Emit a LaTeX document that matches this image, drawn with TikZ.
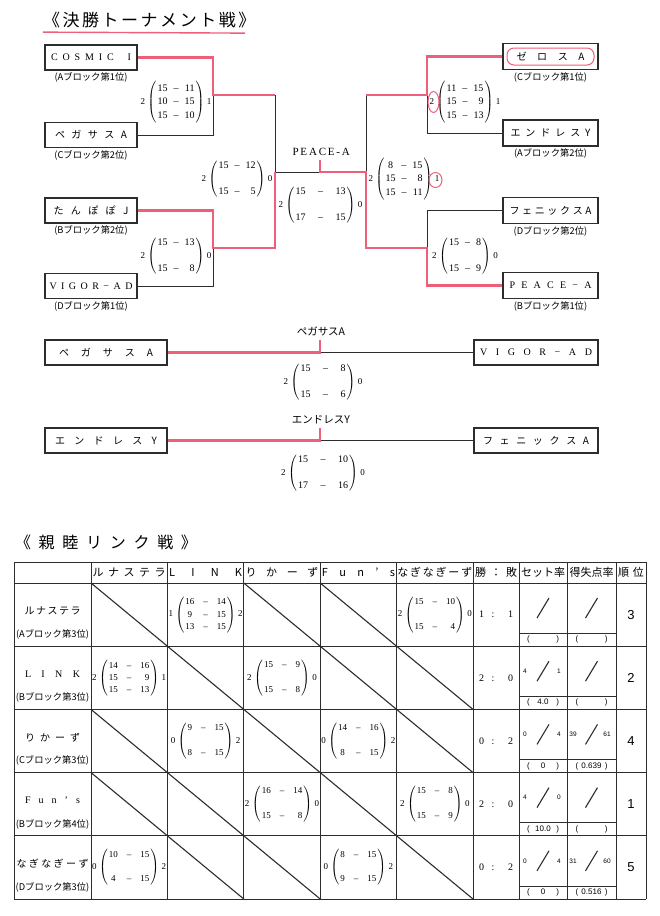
\documentclass[tikz,border=0pt]{standalone}
\usepackage{fontspec}
\setmainfont{Liberation Serif}
\newfontfamily\jpfont{Noto Sans CJK JP}
\newfontfamily\arfont{Liberation Sans}
\usetikzlibrary{positioning}

\definecolor{redpen}{RGB}{238,96,122}
\definecolor{ink}{RGB}{45,45,45}

% spaced-out caption of fixed width
\newcommand{\spread}[2]{\makebox[#1][s]{#2}}
\newcommand{\sidefont}{\fontsize{9}{10}\selectfont}
% game scores: [gap]{sets won}{rows}{sets lost}
\newcommand{\threeset}[6][6pt]{{\sidefont#2}\hspace{2.5pt}$\left(\mkern2mu\renewcommand{\arraystretch}{1.12}\begin{tabular}{@{}c@{\hspace{#1}--\hspace{#1}}r@{}}#3\\#4\\#5\end{tabular}\mkern2mu\right)$\hspace{2.5pt}{\sidefont#6}}
\newcommand{\twoset}[5][6pt]{{\sidefont#2}\hspace{2.5pt}$\left(\mkern2mu\renewcommand{\arraystretch}{1.0}\begin{tabular}{@{}c@{\hspace{#1}--\hspace{#1}}r@{}}#3\\[14pt]#4\end{tabular}\mkern2mu\right)$\hspace{2.5pt}{\sidefont#5}}

\begin{document}
\begin{tikzpicture}[x=1pt, y=-1pt,
    teambox/.style={rectangle, draw=ink, line width=1.1pt, minimum width=92pt, minimum height=25pt, inner sep=0pt, font=\jpfont\fontsize{10}{12}\selectfont},
    rightbox/.style={teambox, minimum width=95pt, minimum height=26pt},
    blocknote/.style={inner sep=0pt, font=\jpfont\fontsize{9.3}{11}\selectfont},
    gamescore/.style={inner sep=0pt, font=\fontsize{10}{12}\selectfont},
    cellscore/.style={inner sep=0pt, font=\fontsize{9}{10.8}\selectfont},
    winline/.style={draw=redpen, line width=2.4pt},
    loseline/.style={draw=ink, line width=0.9pt},
    tablerule/.style={draw=ink, line width=0.8pt},
    emptycell/.style={draw=ink, line width=1.1pt},
    headtext/.style={inner sep=0pt, font=\jpfont\fontsize{11}{13}\selectfont},
    rowname/.style={inner sep=0pt, font=\jpfont\fontsize{10}{12}\selectfont},
    ratenum/.style={inner sep=0pt, font=\arfont\fontsize{6.5}{8}\selectfont},
    ratesub/.style={inner sep=0pt, font=\arfont\fontsize{8}{9.6}\selectfont},
    ranktext/.style={inner sep=0pt, font=\arfont\fontsize{13}{15}\selectfont},
    wltext/.style={inner sep=0pt, font=\fontsize{10}{12}\selectfont},
    redring/.style={draw=redpen, line width=1pt}
]
\fill[white] (0,0) rectangle (660,916);
\useasboundingbox (0,0) rectangle (660,916);

% final tournament
\node[inner sep=0pt, font=\jpfont\fontsize{17}{20}\selectfont] (title1) at (144,20) {\spread{202pt}{《 決 勝 ト ー ナ メ ン ト 戦 》}};
\draw[redpen, line width=1.4pt] ([yshift=-4pt]title1.south west) -- ([yshift=-5pt]title1.south east);

\node[teambox] (cosmic) at (91,57.5) {\rmfamily\spread{80pt}{C O S M I C \hspace{4pt} I}};
\node[blocknote, below=2pt of cosmic] (cosmicnote) {(Aブロック第1位)};
\node[teambox] (pegasus) at (91,135) {\spread{72pt}{ペ ガ サ ス A}};
\node[blocknote, below=2pt of pegasus] (pegasusnote) {(Cブロック第2位)};
\node[teambox] (tanpopo) at (91,210.5) {\spread{75pt}{た ん ぽ ぽ J}};
\node[blocknote, below=2pt of tanpopo] (tanpoponote) {(Bブロック第2位)};
\node[teambox] (vigor) at (91,286) {\rmfamily\spread{83pt}{V I G O R − A D}};
\node[blocknote, below=2pt of vigor] (vigornote) {(Dブロック第1位)};

\node[rightbox] (zeros) at (550.5,56.5) {\spread{68pt}{ゼ ロ ス A}};
\node[blocknote, below=2pt of zeros] (zerosnote) {(Cブロック第1位)};
\node[rightbox] (endless) at (550.5,133) {\spread{80pt}{エ ン ド レ ス Y}};
\node[blocknote, below=2pt of endless] (endlessnote) {(Aブロック第2位)};
\node[rightbox] (phoenix) at (550.5,210.5) {\spread{82pt}{フ ェ ニ ッ ク ス A}};
\node[blocknote, below=2pt of phoenix] (phoenixnote) {(Dブロック第2位)};
\node[rightbox] (peace) at (550.5,285.5) {\rmfamily\spread{82pt}{P E A C E − A}};
\node[blocknote, below=2pt of peace] (peacenote) {(Bブロック第1位)};

\coordinate (lq1) at (213,95);
\coordinate (ls1) at (275,95);
\coordinate (lq2) at (213,248);
\coordinate (ls2) at (275,248);
\coordinate (lf) at (275,172);
\coordinate (champ) at (320,172);
\coordinate (champtop) at (320,160);
\coordinate (rf) at (366,172);
\coordinate (rq1) at (427,95);
\coordinate (rs1) at (366,95);
\coordinate (rq2) at (427,248);
\coordinate (rs2) at (366,248);

\draw[loseline] (pegasus.east) -| (lq1);
\draw[loseline] (vigor.east) -| (lq2);
\draw[loseline] (ls1) -- (lf) -- (champ);
\draw[loseline] (endless.west) -| (rq1);
\draw[loseline] (phoenix.west) -| (rq2);
\draw[loseline] (rs1) -- (rf);
\draw[winline] (cosmic.east) -| (lq1) -- (ls1);
\draw[winline] (tanpopo.east) -| (lq2) -- (ls2) -- (lf);
\draw[winline] (zeros.west) -| (rq1) -- (rs1);
\draw[winline] (peace.west) -| (rq2) -- (rs2) -- (rf) -- (champ) -- (champtop);

\node[inner sep=0pt, font=\fontsize{11}{13}\selectfont] (winner) at (320,152) {\spread{55pt}{P E A C E - A}};

\node[gamescore] (qa1) at (176,102) {\threeset{2}{15&11}{10&15}{15&10}{1}};
\node[gamescore] (qa2) at (176,256) {\twoset{2}{15&13}{15&8}{0}};
\node[gamescore] (sfa) at (237,179) {\twoset{2}{15&12}{15&5}{0}};
\node[gamescore] (fin) at (320.5,205) {\twoset[12.5pt]{2}{15&13}{17&15}{0}};
\node[gamescore] (sfb) at (404,179) {\threeset{2}{8&15}{15&8}{15&11}{1}};
\node[gamescore] (qb1) at (465,102) {\threeset{2}{11&15}{15&9}{15&13}{1}};
\node[gamescore] (qb2) at (465,256) {\twoset{2}{15&8}{15&9}{0}};

\draw[redring, rounded corners=7pt] (507,48) rectangle (594,65);
\draw[redring] (433.5,102) ellipse [x radius=5.5, y radius=10.5];
\draw[redring] (435.5,180) ellipse [x radius=6.5, y radius=7.5];

% third place games
\node[teambox, minimum width=122pt] (pegasusb) at (106,352.5) {\spread{94pt}{ペ ガ サ ス A}};
\node[teambox, minimum width=124pt] (vigorb) at (536,352.5) {\rmfamily\spread{112pt}{V I G O R − A D}};
\node[teambox, minimum width=122pt] (endlessb) at (106,440.5) {\spread{102pt}{エ ン ド レ ス Y}};
\node[teambox, minimum width=124pt] (phoenixb) at (536,440.5) {\spread{106pt}{フ ェ ニ ッ ク ス A}};
\coordinate (tpa) at (320,352.5);
\coordinate (tpatop) at (320,340);
\coordinate (tpb) at (320,440.5);
\coordinate (tpbtop) at (320,428);
\draw[loseline] (tpa) -- (vigorb.west);
\draw[winline] (pegasusb.east) -- (tpa) -- (tpatop);
\draw[loseline] (tpb) -- (phoenixb.west);
\draw[winline] (endlessb.east) -- (tpb) -- (tpbtop);
\node[blocknote, font=\jpfont\fontsize{10.5}{12}\selectfont] (thirda) at (321,331) {ペガサスA};
\node[blocknote, font=\jpfont\fontsize{10.5}{12}\selectfont] (thirdb) at (321,420) {エンドレスY};
\node[gamescore] (tma) at (323,382) {\twoset[12.5pt]{2}{15&8}{15&6}{0}};
\node[gamescore] (tmb) at (323,473) {\twoset[12.5pt]{2}{15&10}{17&16}{0}};

% friendship league
\node[inner sep=0pt, font=\jpfont\fontsize{16}{19}\selectfont] (title2) at (106,542) {\spread{182pt}{《 親 睦 リ ン ク 戦 》}};

\foreach \x in {14,91,167.4,243.8,320.2,396.6,473,519,567,616,646}
  \draw[tablerule] (\x,562) -- (\x,899);
\foreach \y in {562,583,646.2,709.4,772.6,835.8,899}
  \draw[tablerule] (14,\y) -- (646,\y);
\foreach \y in {633.2,696.4,759.6,822.8,886}
  \draw[tablerule] (519,\y) -- (616,\y);
\foreach \c/\r in {1/1,3/1,4/1,2/2,4/2,5/2,1/3,3/3,5/3,1/4,2/4,4/4,2/5,3/5,5/5}
  \draw[emptycell] ({91+76.4*(\c-1)},{583+63.2*(\r-1)}) -- ++(76.4,63.2);

\node[headtext] (hluna) at (129.2,572.5) {\spread{73pt}{ル ナ ス テ ラ}};
\node[headtext] (hlink) at (205.6,572.5) {\spread{73pt}{L I N K}};
\node[headtext] (hrika) at (282,572.5) {\spread{73pt}{り か ー ず}};
\node[headtext] (hfun) at (358.4,572.5) {\spread{73pt}{F u n ’ s}};
\node[headtext] (hnagi) at (434.8,572.5) {\spread{75pt}{な ぎ な ぎ ー ず}};
\node[headtext] (hwl) at (496,572.5) {\spread{42pt}{勝 ： 敗}};
\node[headtext] (hset) at (543,572.5) {セット率};
\node[headtext] (hpt) at (591.5,572.5) {得失点率};
\node[headtext] (hrank) at (631,572.5) {\spread{26pt}{順 位}};

\node[rowname] (rluna) at (52.5,611) {\spread{56pt}{ル ナ ス テ ラ}};
\node[blocknote] (rlunanote) at (52.5,634.5) {(Aブロック第3位)};
\node[rowname] (rlink) at (52.5,674.2) {\rmfamily\spread{55pt}{L I N K}};
\node[blocknote] (rlinknote) at (52.5,697.7) {(Bブロック第3位)};
\node[rowname] (rrika) at (52.5,737.4) {\spread{55pt}{り か ー ず}};
\node[blocknote] (rrikanote) at (52.5,760.9) {(Cブロック第3位)};
\node[rowname] (rfun) at (52.5,800.6) {\rmfamily\spread{55pt}{F u n ’ s}};
\node[blocknote] (rfunnote) at (52.5,824.1) {(Bブロック第4位)};
\node[rowname] (rnagi) at (52.5,863.8) {\spread{72pt}{な ぎ な ぎ ー ず}};
\node[blocknote] (rnaginote) at (52.5,887.3) {(Dブロック第3位)};

\node[cellscore] (g12) at (205.6,614.6) {\threeset[9pt]{1}{16&14}{9&15}{13&15}{2}};
\node[cellscore] (g15) at (434.8,614.6) {\twoset[9pt]{2}{15&10}{15&4}{0}};
\node[cellscore] (g21) at (129.2,677.8) {\threeset[9pt]{2}{14&16}{15&9}{15&13}{1}};
\node[cellscore] (g23) at (282,677.8) {\twoset[9pt]{2}{15&9}{15&8}{0}};
\node[cellscore] (g32) at (205.6,741) {\twoset[9pt]{0}{9&15}{8&15}{2}};
\node[cellscore] (g34) at (358.4,741) {\twoset[9pt]{0}{14&16}{8&15}{2}};
\node[cellscore] (g43) at (282,804.2) {\twoset[9pt]{2}{16&14}{15&8}{0}};
\node[cellscore] (g45) at (434.8,804.2) {\twoset[9pt]{2}{15&8}{15&9}{0}};
\node[cellscore] (g51) at (129.2,867.4) {\twoset[9pt]{0}{10&15}{4&15}{2}};
\node[cellscore] (g54) at (358.4,867.4) {\twoset[9pt]{0}{8&15}{9&15}{2}};

\foreach \r/\wl/\sw/\sl/\sq/\pw/\pl/\pq/\rk in {
    1/{1 : 1}/{}/{}/{}/{}/{}/{}/3,
    2/{2 : 0}/4/1/4.0/{}/{}/{}/2,
    3/{0 : 2}/0/4/0/39/61/0.639/4,
    4/{2 : 0}/4/0/10.0/{}/{}/{}/1,
    5/{0 : 2}/0/4/0/31/60/0.516/5}
{
  \pgfmathsetmacro\rowtop{583+63.2*(\r-1)}
  \node[wltext] (wl\r) at (496,\rowtop+31.6) {\spread{34pt}{\wl}};
  \draw[emptycell] (537,\rowtop+35) -- (549,\rowtop+15);
  \draw[emptycell] (585.5,\rowtop+35) -- (597.5,\rowtop+15);
  \node[ratenum] (sw\r) at (525,\rowtop+25) {\sw};
  \node[ratenum] (sl\r) at (559,\rowtop+25) {\sl};
  \node[ratenum] (pw\r) at (573,\rowtop+25) {\pw};
  \node[ratenum] (pl\r) at (607,\rowtop+25) {\pl};
  \node[ratesub] (sq\r) at (543,\rowtop+56.6) {\makebox[32pt]{(\hfill\sq\hfill)}};
  \node[ratesub] (pq\r) at (591.5,\rowtop+56.6) {\makebox[32pt]{(\hfill\pq\hfill)}};
  \node[ranktext] (rk\r) at (631,\rowtop+31.6) {\rk};
}
\end{tikzpicture}
\end{document}
